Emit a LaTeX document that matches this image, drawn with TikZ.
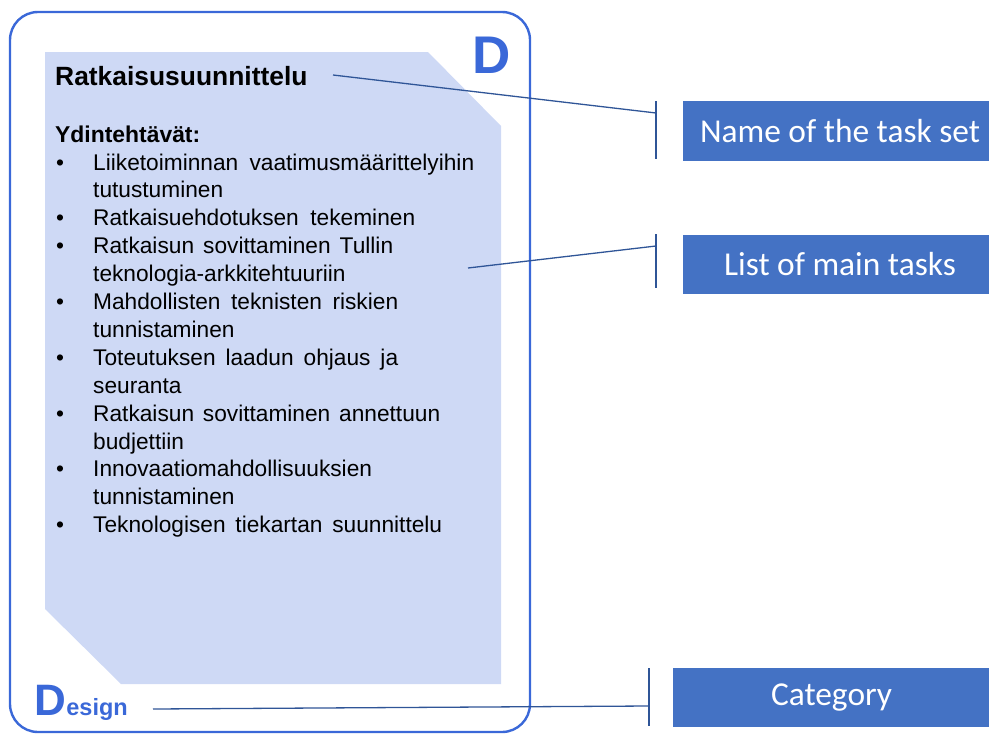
\documentclass[tikz,border=0pt]{standalone}
\usepackage{fontspec}
\setmainfont{Liberation Sans}
\newfontfamily\calfont{Carlito}

\definecolor{cardblue}{HTML}{3A68D8}
\definecolor{panelblue}{HTML}{CED9F5}
\definecolor{tagblue}{HTML}{4472C4}
\definecolor{leader}{HTML}{2F5597}

\tikzset{
  cardedge/.style={draw=cardblue, line width=2.4pt, rounded corners=28pt},
  panel/.style={fill=panelblue},
  titletext/.style={anchor=base west, inner sep=0pt, font=\bfseries\fontsize{26.4}{26.4}\selectfont},
  headtext/.style={anchor=base west, inner sep=0pt, font=\bfseries\fontsize{22.9}{22.9}\selectfont},
  itemtext/.style={anchor=base west, inner sep=0pt, font=\fontsize{22.7}{22.7}\selectfont},
  bullet/.style={anchor=base, inner sep=0pt, font=\fontsize{22.7}{22.7}\selectfont},
  tag/.style={fill=tagblue, text=white, inner sep=0pt, font=\calfont\fontsize{33.4}{33.4}\selectfont},
  leaderline/.style={draw=leader, line width=1.3pt},
  bracket/.style={draw=leader, line width=1.3pt}
}

\newcommand{\stretchline}[2]{\makebox[#1pt][s]{#2}}

\begin{document}
\begin{tikzpicture}[x=1pt, y=-1pt]
\useasboundingbox (0,0) rectangle (989,734);

% card outline and shaded panel
\draw[cardedge] (10,12) rectangle (530,732);
\fill[panel] (45,52) -- (428,52) -- (501,126) -- (501,684) -- (121,684) -- (45,609) -- cycle;

% corner letter and category mark
\node[anchor=base, inner sep=0pt, text=cardblue, font=\bfseries\fontsize{53}{53}\selectfont] (bigD) at (492,73) {D};
\node[anchor=base west, inner sep=0pt, text=cardblue, font=\bfseries\fontsize{44}{44}\selectfont] (catD) at (34,715) {D};
\node[anchor=base west, inner sep=0pt, text=cardblue, font=\bfseries\fontsize{23.5}{23.5}\selectfont] (catrest) at (catD.base east) {esign};

% title and list
\node[titletext] (title) at (55,85) {Ratkaisusuunnittelu};
\node[headtext] (head) at (55,142) {Ydintehtävät:};

\foreach \k in {0,2,3,5,7,9,11,13}{
  \node[bullet] (b\k) at (60,{170+27.9*\k}) {•};
}
\node[itemtext] (l0) at (93,170.0) {\stretchline{381}{Liiketoiminnan vaatimusmäärittelyihin}};
\node[itemtext] (l1) at (93,197.9) {tutustuminen};
\node[itemtext] (l2) at (93,225.8) {\stretchline{322}{Ratkaisuehdotuksen tekeminen}};
\node[itemtext] (l3) at (93,253.7) {\stretchline{300}{Ratkaisun sovittaminen Tullin}};
\node[itemtext] (l4) at (93,281.6) {teknologia-arkkitehtuuriin};
\node[itemtext] (l5) at (93,309.5) {\stretchline{305}{Mahdollisten teknisten riskien}};
\node[itemtext] (l6) at (93,337.4) {tunnistaminen};
\node[itemtext] (l7) at (93,365.3) {\stretchline{305}{Toteutuksen laadun ohjaus ja}};
\node[itemtext] (l8) at (93,393.2) {seuranta};
\node[itemtext] (l9) at (93,421.1) {\stretchline{347}{Ratkaisun sovittaminen annettuun}};
\node[itemtext] (l10) at (93,449.0) {budjettiin};
\node[itemtext] (l11) at (93,476.9) {Innovaatiomahdollisuuksien};
\node[itemtext] (l12) at (93,504.8) {tunnistaminen};
\node[itemtext] (l13) at (93,532.7) {\stretchline{349}{Teknologisen tiekartan suunnittelu}};

% explanation tags
\node[tag, minimum width=314pt, minimum height=60pt] (tname) at (840,131) {Name of the task set};
\node[tag, minimum width=314pt, minimum height=59pt] (tlist) at (840,264.5) {List of main tasks};
\node[tag, minimum width=317pt, minimum height=59pt] (tcat) at (831.5,697.5) {Category};

% brackets in front of the tags
\coordinate (n1) at (656,101);
\coordinate (n2) at (656,159);
\coordinate (nm) at (656,113);
\coordinate (m1) at (656,234);
\coordinate (m2) at (656,288);
\coordinate (mm) at (656,246);
\coordinate (c1) at (649,668);
\coordinate (c2) at (649,726);
\coordinate (cm) at (649,706);
\draw[bracket] (n1) -- (n2);
\draw[bracket] (m1) -- (m2);
\draw[bracket] (c1) -- (c2);

% leader lines
\coordinate (titleend) at (333,75);
\coordinate (listend) at (468,268);
\coordinate (catend) at (153,709);
\draw[leaderline] (titleend) -- (nm);
\draw[leaderline] (listend) -- (mm);
\draw[leaderline] (catend) -- (cm);
\end{tikzpicture}
\end{document}
